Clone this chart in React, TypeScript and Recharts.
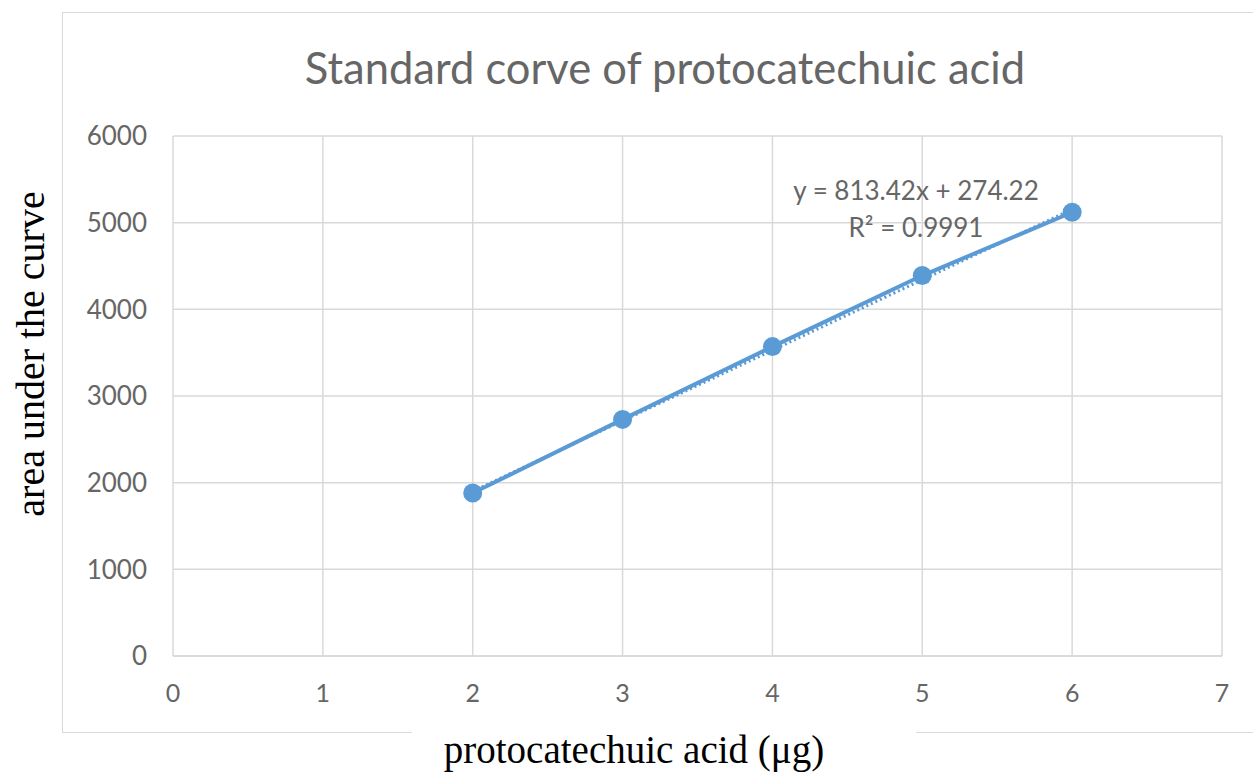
import { ScatterChart, Scatter, XAxis, YAxis, CartesianGrid } from 'recharts';

const xValues = [2, 3, 4, 5, 6];
const areaValues = [1880, 2730, 3570, 4390, 5120];
const trendX = [2, 6];
const trendY = [1901, 5155];
const xTicks = [0, 1, 2, 3, 4, 5, 6, 7];
const yTicks = [0, 1000, 2000, 3000, 4000, 5000, 6000];

const points = xValues.map((x, i) => ({ x, y: areaValues[i] }));
const trend = trendX.map((x, i) => ({ x, y: trendY[i] }));

const BLUE = '#5B9BD5';
const GRID = '#D9D9D9';
const TEXT = '#666666';
const SANS = 'Lato, "Open Sans", sans-serif';
const SERIF = '"Liberation Serif", "Times New Roman", serif';

const Dot = (props: any) => {
  const { cx, cy } = props;
  return <circle cx={cx} cy={cy} r={9.5} fill={BLUE} />;
};

export default function App() {
  return (
    <div style={{ position: 'absolute', left: 0, top: 0, width: 1253, height: 774, background: '#fff', overflow: 'hidden' }}>
      {/* chart frame */}
      <div style={{ position: 'absolute', left: 62, top: 12, width: 1220, height: 721, border: `1.5px solid ${GRID}`, boxSizing: 'border-box' }} />
      <div style={{ position: 'absolute', left: 412, top: 725, width: 504, height: 20, background: '#fff' }} />

      <div style={{ position: 'absolute', left: 0, top: 0 }}>
        <ScatterChart width={1253} height={774} margin={{ top: 136, right: 31, bottom: 68, left: 73 }}>
          <CartesianGrid stroke={GRID} strokeWidth={1.5} horizontal vertical />
          <XAxis
            type="number"
            dataKey="x"
            domain={[0, 7]}
            ticks={xTicks}
            height={50}
            axisLine={{ stroke: GRID, strokeWidth: 1.5 }}
            tickLine={false}
            tickSize={0}
            tickMargin={28}
            tick={{ fill: TEXT, fontSize: 25, fontFamily: SANS }}
            interval={0}
          />
          <YAxis
            type="number"
            dataKey="y"
            domain={[0, 6000]}
            ticks={yTicks}
            width={100}
            axisLine={false}
            tickLine={false}
            tickSize={0}
            tickMargin={26}
            tick={{ fill: TEXT, fontSize: 26, fontFamily: SANS }}
            interval={0}
          />
          <Scatter
            data={trend}
            line={{ stroke: BLUE, strokeWidth: 3, strokeDasharray: '2 3' }}
            shape={() => <g />}
            isAnimationActive={false}
          />
          <Scatter
            data={points}
            line={{ stroke: BLUE, strokeWidth: 4 }}
            shape={Dot}
            isAnimationActive={false}
          />
        </ScatterChart>
      </div>

      <div style={{ position: 'absolute', left: 0, width: 1330, top: 40, textAlign: 'center', fontFamily: SANS, fontSize: 43.5, color: TEXT, lineHeight: '54px' }}>
        Standard corve of protocatechuic acid
      </div>

      <div style={{ position: 'absolute', left: 716, width: 400, top: 172, textAlign: 'center', fontFamily: SANS, fontSize: 26, color: TEXT, lineHeight: '37px' }}>
        <div>y = 813.42x + 274.22</div>
        <div>R² = 0.9991</div>
      </div>

      <div style={{ position: 'absolute', left: 30, top: 354, transform: 'translate(-50%, -50%) rotate(-90deg)', whiteSpace: 'nowrap', fontFamily: SERIF, fontSize: 40, color: '#000' }}>
        area under the curve
      </div>

      <div style={{ position: 'absolute', left: 0, width: 1268, top: 728, textAlign: 'center', whiteSpace: 'nowrap', fontFamily: SERIF, fontSize: 39, color: '#000', lineHeight: '44px' }}>
        protocatechuic acid (μg)
      </div>
    </div>
  );
}
